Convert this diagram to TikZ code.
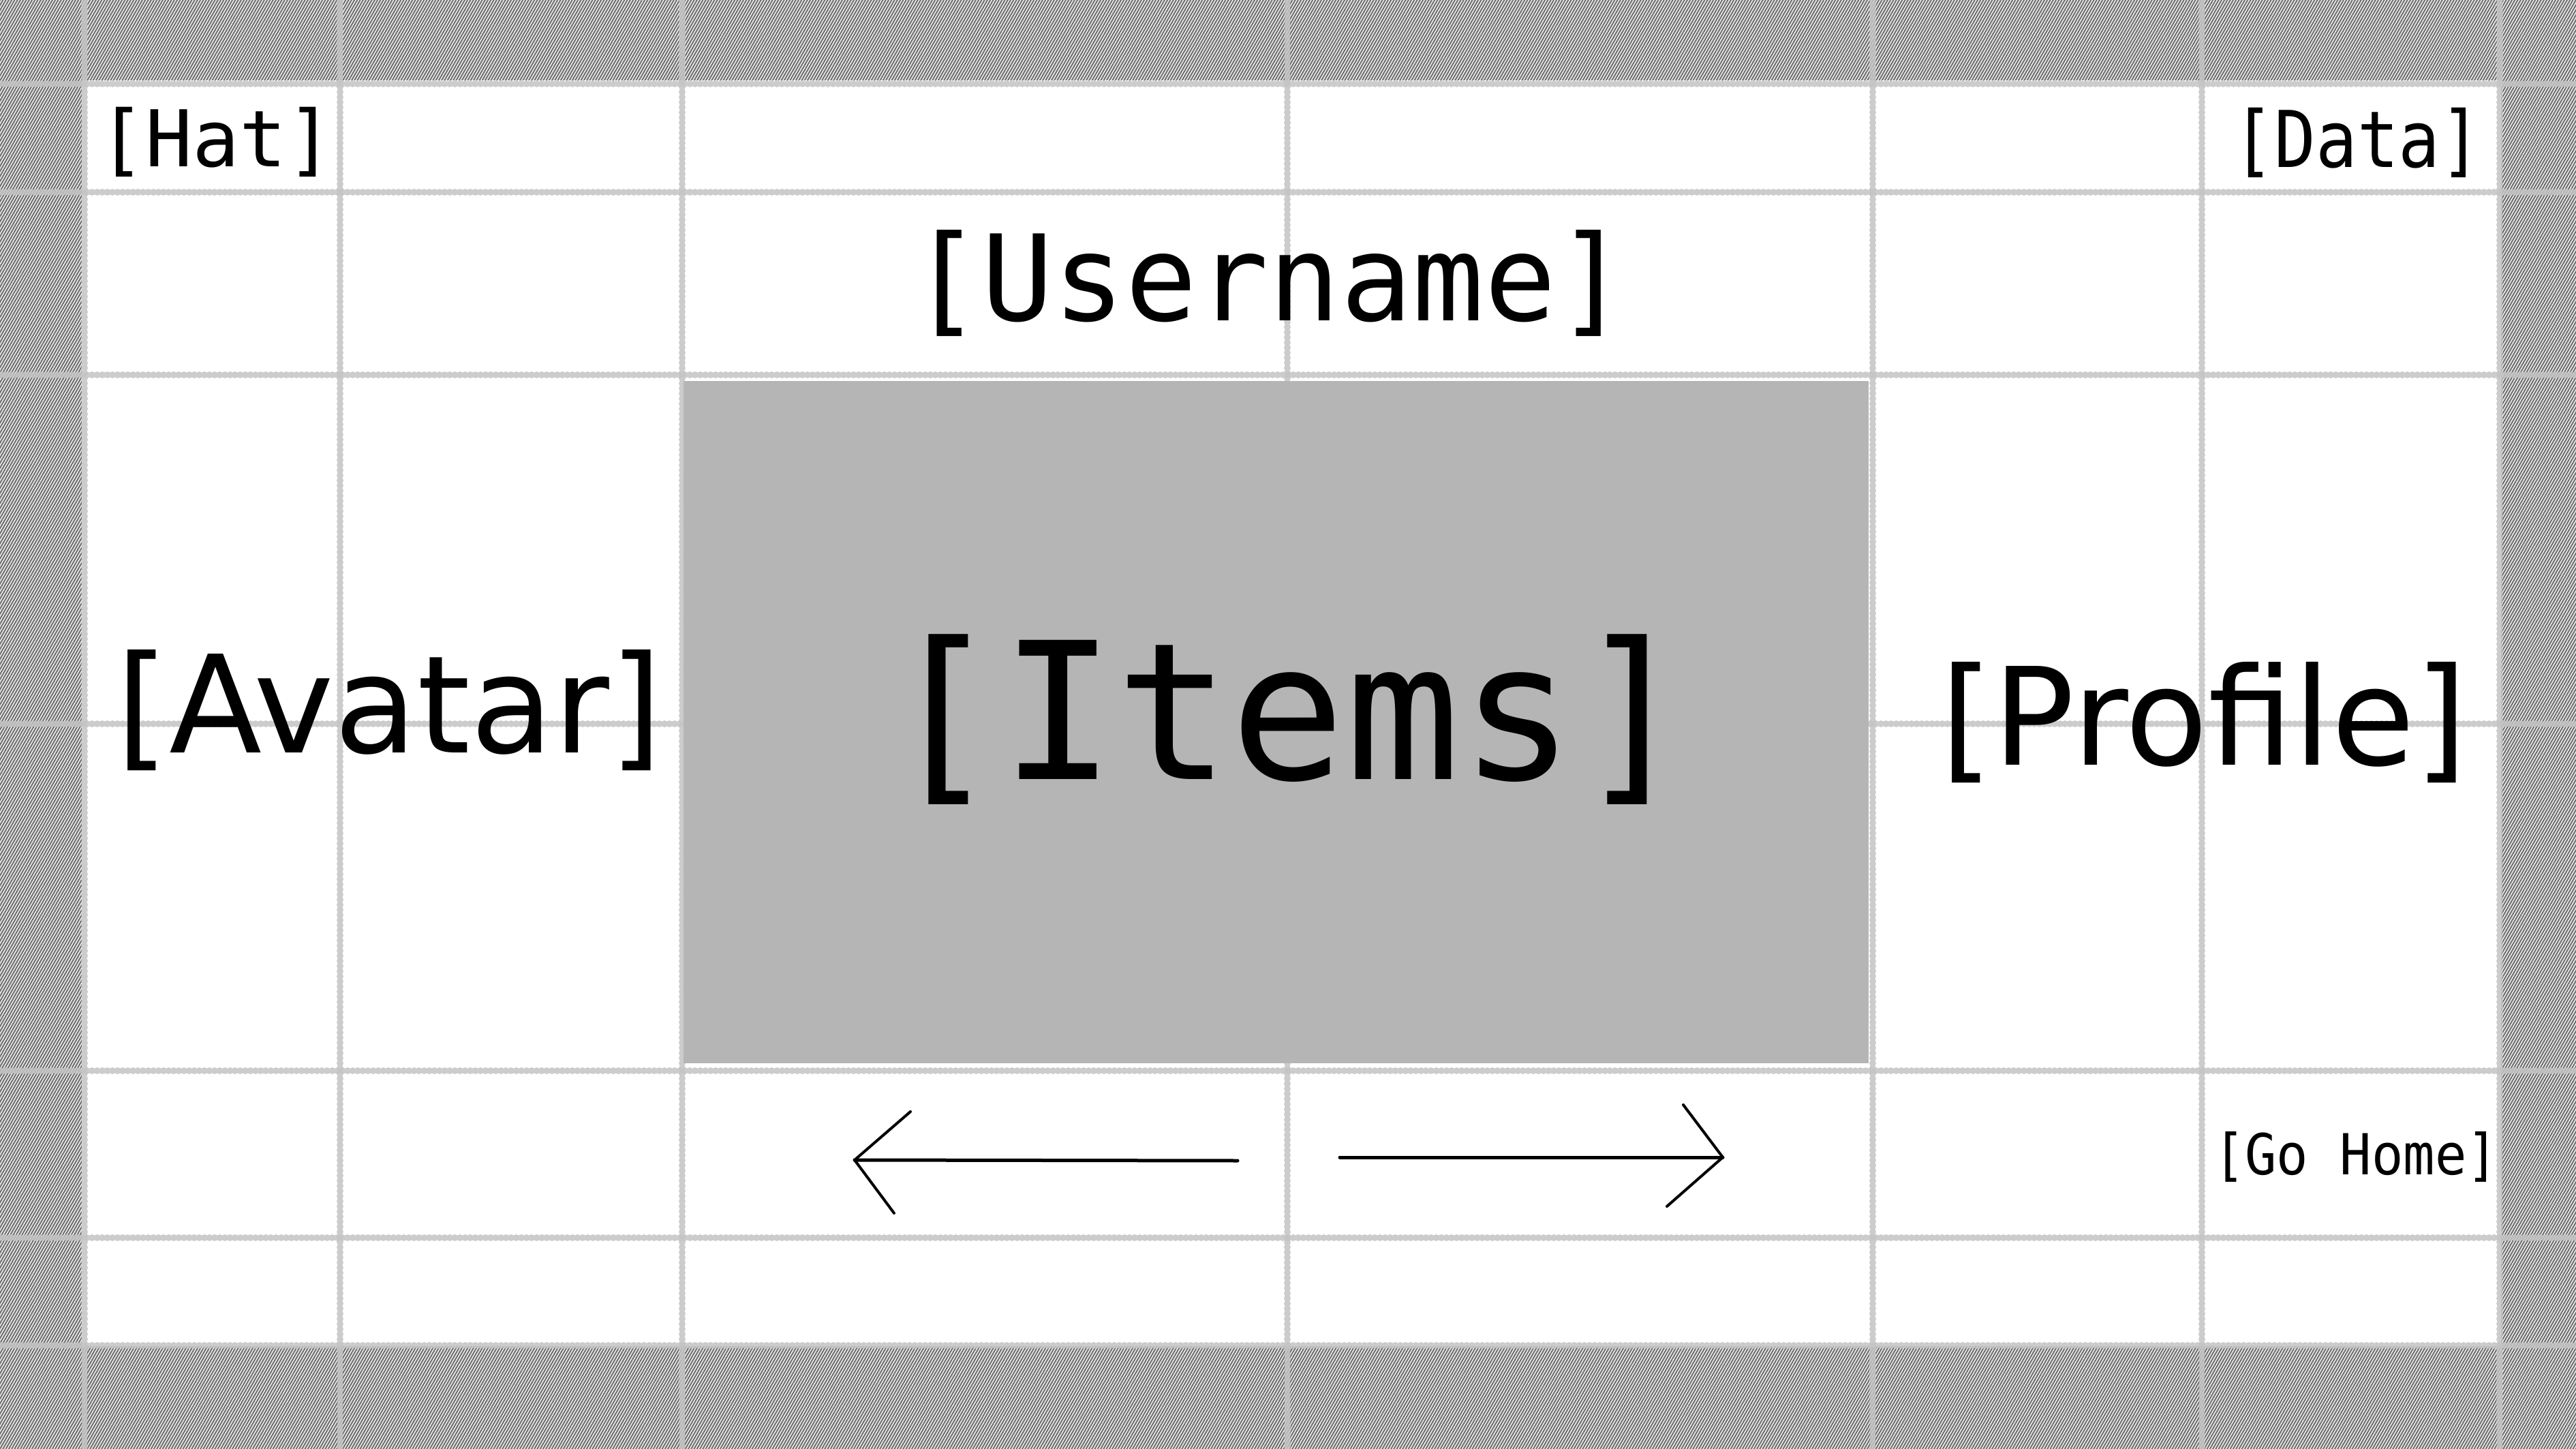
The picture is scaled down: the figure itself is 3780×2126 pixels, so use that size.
\documentclass[tikz,border=0pt]{standalone}
\usepackage{fontspec}
\setmonofont{DejaVu Sans Mono}
\setsansfont{DejaVu Sans}
\usetikzlibrary{arrows.meta,positioning,patterns.meta}
\definecolor{hatchgray}{RGB}{112,112,112}
\definecolor{gridgray}{RGB}{196,196,196}
\definecolor{panelgray}{RGB}{181,181,181}
\newcommand{\fs}[1]{\fontsize{#1}{1.2\dimexpr#1\relax}\selectfont}

\begin{document}
\begin{tikzpicture}[
  x=0.1mm,y=-0.1mm,
  gridline/.style={gridgray,line width=1.0mm,line cap=round,dash pattern=on 0pt off 0.75mm,opacity=.85},
  lbl/.style={inner sep=0pt,text=black},
  mono/.style={lbl,font=\ttfamily},
  prop/.style={lbl,font=\sffamily},
  panel/.style={fill=panelgray,inner sep=0pt,minimum width=173.9mm,minimum height=100.1mm},
  navline/.style={black,line width=0.5mm,line cap=round,line join=round}
]
\useasboundingbox (0,0) rectangle (3780,2126);
% hatched surround and sheet
\fill[white] (0,0) rectangle (3780,2126);
\pattern[pattern={Lines[angle=60,distance=1.05pt,line width=0.62pt]},pattern color=hatchgray] (0,0) rectangle (3780,2126);
\fill[white] (120,118) rectangle (3670,1975);
% layout grid
\foreach \gx in {124,499,1001,1889,2748,3231,3668}
  \draw[gridline] (\gx,0) -- (\gx,2126);
\foreach \gy in {123,282,550,1062,1571,1816,1974}
  \draw[gridline] (0,\gy) -- (3780,\gy);
% content
\node[panel] (panel) at (1872.5,1059.5) {};
\node[mono] (hat) at (317,208) {\fs{32.7pt}[Hat]};
\node[mono] (data) at (3459,209) {\fs{32.7pt}\scalebox{0.88}[1]{[Data]}};
\node[mono] (username) at (1862,416) {\fs{49.8pt}[Username]};
\node[mono] (items) at (1890,1056) {\fs{79.7pt}[Items]};
\node[prop] (avatar) at (571,1042) {\fs{56.6pt}[Avatar]};
\node[prop] (profile) at (3234,1060) {\fs{56.6pt}[Profile]};
\node[mono] (gohome) at (3457,1697) {\fs{23.6pt}\scalebox{0.93}[1]{[Go Home]}};
% navigation arrows
\coordinate (prevtip) at (1254,1702);
\coordinate (prevend) at (1816,1703);
\coordinate (nextstart) at (1966,1698);
\coordinate (nexttip) at (2528,1698);
\draw[navline] (prevend) -- (prevtip);
\draw[navline,line width=0.4mm] (1336,1631) -- (prevtip) -- (1312,1780);
\draw[navline] (nextstart) -- (nexttip);
\draw[navline,line width=0.4mm] (2470,1621) -- (nexttip) -- (2446,1770);
\end{tikzpicture}
\end{document}
